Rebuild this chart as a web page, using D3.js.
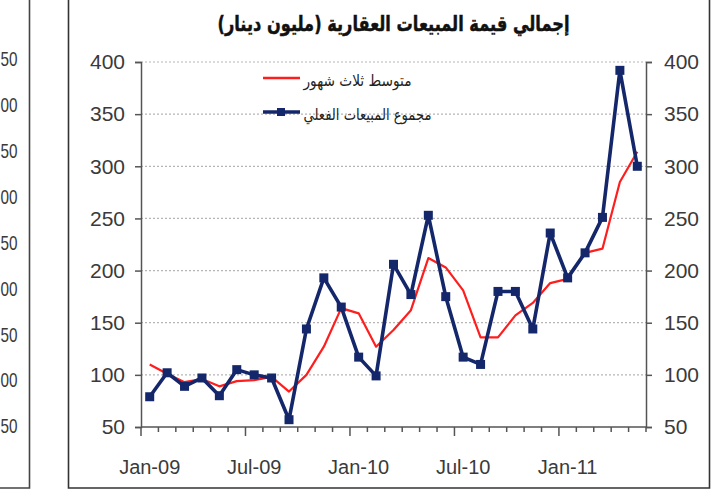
<!DOCTYPE html>
<html>
<head>
<meta charset="utf-8">
<script src="https://cdn.jsdelivr.net/npm/d3@7"></script>
<style>
  html, body { margin: 0; padding: 0; background: #fff; }
  svg { display: block; }
</style>
</head>
<body>
<svg id="chart" width="724" height="500"></svg>
<script>
// ---- data ----
const months = ["Jan-09","Feb-09","Mar-09","Apr-09","May-09","Jun-09","Jul-09","Aug-09","Sep-09","Oct-09","Nov-09","Dec-09",
  "Jan-10","Feb-10","Mar-10","Apr-10","May-10","Jun-10","Jul-10","Aug-10","Sep-10","Oct-10","Nov-10","Dec-10",
  "Jan-11","Feb-11","Mar-11","Apr-11","May-11"];
const actualSales = [79,102,89,97,80,105,100,97,57,144,193,165,117,99,206,177,253,175,117,110,180,180,144,236,193,217,251,392,300];
const threeMonthAvg = [110,101,93,96,89,94,95,98,84,100,127,164,159,127,143,162,212,203,181,136,136,157,169,188,192,217,221,285,314];
const yTicks = [50,100,150,200,250,300,350,400];
const xLabelMonths = ["Jan-09","Jul-09","Jan-10","Jul-10","Jan-11"];
// visible (cropped) tick labels of the neighbouring chart at the left edge, top to bottom
const leftPanelLabels = ["50","00","50","00","50","00","50","00","50"];
const titleText = "إجمالي قيمة المبيعات العقارية (مليون دينار)";
const legendAvg = "متوسط ثلاث شهور";
const legendActual = "مجموع المبيعات الفعلي";

// ---- layout ----
const svg = d3.select("#chart");
const L = 141, R = 646, T = 62, B = 427;
const x = d3.scaleBand().domain(months).range([L, R]).padding(0);
const y = d3.scaleLinear().domain([50, 400]).range([B, T]);
const numFont = "'Liberation Sans', Arial, sans-serif";
const textCol = "#3a3a3a";
const navy = "#14276b";
const red = "#ff1e1e";

// left partial panel (cropped neighbour chart)
const yLeft = d3.scalePoint().domain(d3.range(leftPanelLabels.length)).range([59, 426]);
svg.append("g").selectAll("text").data(leftPanelLabels).join("text")
  .attr("x", 0.5).attr("y", (d, i) => yLeft(i)).attr("dy", "0.35em")
  .attr("text-anchor", "start").attr("font-family", numFont).attr("font-size", 21)
  .attr("textLength", 17).attr("lengthAdjust", "spacingAndGlyphs")
  .attr("fill", textCol).text(d => d);
svg.append("path").attr("d", "M-2,488 H29.5 V-2").attr("fill", "none")
  .attr("stroke", "#444").attr("stroke-width", 1.6);

// main frame
svg.append("path").attr("d", "M68.5,-2 V488 H709.5 V-2").attr("fill", "none")
  .attr("stroke", "#333").attr("stroke-width", 1.6);

// title
svg.append("text").attr("x", (L + R) / 2).attr("y", 31)
  .attr("text-anchor", "middle").attr("font-family", "'DejaVu Sans', sans-serif")
  .attr("font-weight", "bold").attr("font-size", 21).attr("fill", "#111")
  .attr("stroke", "#111").attr("stroke-width", 0.5)
  .attr("textLength", 352).attr("lengthAdjust", "spacingAndGlyphs")
  .text(titleText);

// gridlines
svg.append("g").selectAll("line").data(yTicks.filter(d => d > 50)).join("line")
  .attr("x1", L).attr("x2", R).attr("y1", d => y(d)).attr("y2", d => y(d))
  .attr("stroke", "#b5b5b5").attr("stroke-width", 1.2).attr("stroke-dasharray", "2,2");

// y axes
const yAxisL = d3.axisLeft(y).tickValues(yTicks).tickSize(6).tickPadding(10);
const gL = svg.append("g").attr("transform", `translate(${L},0)`).call(yAxisL);
const yAxisR = d3.axisRight(y).tickValues(yTicks).tickSize(6).tickPadding(12);
const gR = svg.append("g").attr("transform", `translate(${R},0)`).call(yAxisR);
[gL, gR].forEach(g => {
  g.select(".domain").attr("stroke", "#555").attr("stroke-width", 1.5);
  g.selectAll(".tick line").attr("stroke", "#555").attr("stroke-width", 1.5);
  g.selectAll("text").attr("font-family", numFont).attr("font-size", 21).attr("fill", textCol);
});

// x axis: labels centred on categories, ticks on category boundaries
const xAxis = d3.axisBottom(x).tickValues(xLabelMonths).tickSize(0).tickPadding(33);
const gX = svg.append("g").attr("transform", `translate(0,${B})`).call(xAxis);
gX.select(".domain").remove();
gX.selectAll("text").attr("font-family", numFont).attr("font-size", 20).attr("fill", textCol);
const boundaries = months.map(m => ({ pos: x(m), major: xLabelMonths.includes(m) }))
  .concat([{ pos: R, major: false }]);
svg.append("g").selectAll("line").data(boundaries).join("line")
  .attr("x1", d => d.pos).attr("x2", d => d.pos)
  .attr("y1", B).attr("y2", d => d.major ? B + 9 : B + 5)
  .attr("stroke", "#555").attr("stroke-width", 1.5);
svg.append("line").attr("x1", L).attr("x2", R).attr("y1", B).attr("y2", B)
  .attr("stroke", "#555").attr("stroke-width", 1.5);

const cx = m => x(m) + x.bandwidth() / 2;

// red average line
const lineAvg = d3.line().x((d, i) => cx(months[i])).y(d => y(d));
svg.append("path").datum(threeMonthAvg).attr("d", lineAvg)
  .attr("fill", "none").attr("stroke", red).attr("stroke-width", 2.2)
  .attr("stroke-linejoin", "round");

// navy actual line with square markers
const lineAct = d3.line().x((d, i) => cx(months[i])).y(d => y(d));
svg.append("path").datum(actualSales).attr("d", lineAct)
  .attr("fill", "none").attr("stroke", navy).attr("stroke-width", 3.6)
  .attr("stroke-linejoin", "round");
svg.append("g").selectAll("rect").data(actualSales).join("rect")
  .attr("x", (d, i) => cx(months[i]) - 4.5).attr("y", d => y(d) - 4.5)
  .attr("width", 9).attr("height", 9).attr("fill", navy);

// legend
const lg = svg.append("g");
lg.append("line").attr("x1", 263).attr("x2", 300).attr("y1", 78).attr("y2", 78)
  .attr("stroke", red).attr("stroke-width", 2.4);
lg.append("text").attr("x", 357.5).attr("y", 86).attr("text-anchor", "middle")
  .attr("font-family", "'DejaVu Sans', sans-serif").attr("font-size", 16).attr("fill", "#222")
  .attr("textLength", 108).attr("lengthAdjust", "spacingAndGlyphs").text(legendAvg);
lg.append("line").attr("x1", 263).attr("x2", 300).attr("y1", 112).attr("y2", 112)
  .attr("stroke", navy).attr("stroke-width", 3.6);
lg.append("rect").attr("x", 277).attr("y", 108).attr("width", 8).attr("height", 8).attr("fill", navy);
lg.append("text").attr("x", 367.5).attr("y", 120).attr("text-anchor", "middle")
  .attr("font-family", "'DejaVu Sans', sans-serif").attr("font-size", 16).attr("fill", "#222")
  .attr("textLength", 128).attr("lengthAdjust", "spacingAndGlyphs").text(legendActual);
</script>
</body>
</html>
